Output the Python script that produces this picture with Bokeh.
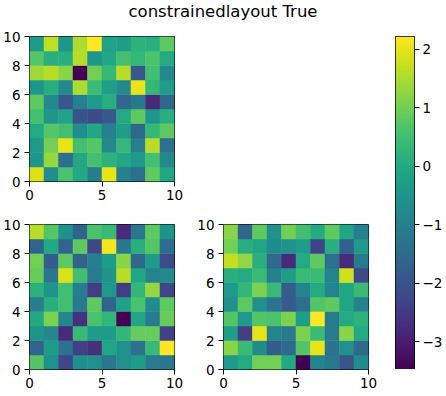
import numpy as np
from bokeh.plotting import figure
from bokeh.models import (Range1d, FixedTicker, LinearColorMapper, ColumnDataSource,
                          Div, GlobalInlineStyleSheet, CustomJSTickFormatter)
from bokeh.layouts import column, row
from bokeh.palettes import Viridis256
from bokeh.embed import file_html
from bokeh.resources import INLINE

title_text = "constrainedlayout True"
x_ticks = [0, 5, 10]
y_ticks = [0, 2, 4, 6, 8, 10]
cbar_ticks = [-3, -2, -1, 0, 1, 2]

# rows listed from bottom (y = 0..1) to top (y = 9..10)
panel_top_left = [
    [1.9, -0.7, 0.6, 0.0, -1.1, 2.0, -1.0, -1.4, 0.8, -0.1],
    [-0.5, 1.3, -1.4, -0.1, 0.5, 0.2, -0.1, -0.4, 0.5, -0.8],
    [-0.4, 1.0, 2.0, 0.5, 0.7, -0.8, 0.3, -1.0, 1.6, -1.4],
    [0.0, 0.7, 0.5, -0.7, -0.1, -1.0, -0.3, -1.5, 0.3, 0.8],
    [0.5, -0.5, -0.2, -2.0, -2.2, -1.9, 0.0, 0.8, -0.5, 0.1],
    [0.8, -0.8, -1.9, -1.0, -0.4, 0.1, -1.6, -1.2, -2.8, -1.6],
    [-0.5, 0.1, -0.8, 1.5, 0.4, -0.3, -0.8, 2.0, 0.3, -0.3],
    [1.4, 1.6, 1.2, -3.47, 1.0, 0.3, 1.6, -1.9, 0.5, -0.8],
    [0.7, 0.1, 0.1, 1.6, -0.5, -0.1, 0.5, 0.3, 0.6, 0.0],
    [-0.35, 1.65, -0.5, 1.5, 2.2, -0.2, -0.3, 0.2, 0.1, 0.8],
]
panel_bottom_left = [
    [0.7, -0.6, -2.2, -0.6, -0.6, -1.2, -0.6, -0.3, -1.1, -1.2],
    [-1.6, -0.3, -1.3, -2.3, -2.6, -0.1, -0.6, -1.3, 0.4, 2.2],
    [-0.5, -0.8, -2.7, 0.4, -0.3, -0.3, 0.3, 0.9, 0.9, -2.3],
    [0.0, 1.1, -0.8, -2.6, 0.6, 0.3, -3.4, -0.1, -1.1, 0.9],
    [-1.0, 0.1, 0.5, -1.1, 0.8, -1.6, -0.2, 0.6, -0.7, 0.8],
    [0.2, -0.5, 0.5, -1.0, -2.4, -0.4, -2.4, 0.3, 1.3, -2.2],
    [0.9, -1.2, 1.9, 0.5, -1.1, -0.5, 1.6, -0.1, -0.9, -0.7],
    [1.0, -1.8, 0.8, -1.6, -1.0, -0.3, 1.2, -1.5, -0.3, -2.1],
    [-1.6, 0.0, -1.6, 0.8, -2.2, 2.1, -1.2, 0.1, 0.7, -1.4],
    [1.6, 0.7, -0.6, -1.6, 0.6, 0.4, -2.7, -1.2, 0.8, -0.5],
]
panel_bottom_right = [
    [-0.4, 0.0, 1.0, 1.0, 0.0, -3.47, -0.9, -1.2, -2.0, -0.7],
    [1.2, 0.4, -0.7, -1.8, -1.5, 0.7, 2.0, -1.3, -0.6, -1.5],
    [-0.3, -2.4, 2.0, -0.9, -1.1, 1.1, 0.4, -1.1, 1.2, 0.0],
    [0.7, -0.4, 0.7, 0.6, 1.1, -0.3, 2.22, -1.1, 0.0, 0.2],
    [-0.6, 0.8, -0.6, -1.3, -1.8, -1.4, 0.7, 0.8, -0.1, -0.9],
    [-0.4, 0.3, 1.1, 0.4, -1.8, -0.9, 0.0, -0.9, -0.1, 0.4],
    [0.1, 0.0, 0.4, -1.0, -0.3, 0.4, 0.4, -0.9, 1.8, -2.2],
    [1.7, 1.3, 0.1, -1.5, -2.8, 0.0, 0.8, -1.4, -2.8, -1.1],
    [1.0, 0.1, -0.1, -0.7, -0.6, -0.3, -2.3, 0.1, -1.7, -0.4],
    [1.2, -1.6, 0.8, -0.6, 1.0, 0.5, 0.0, 0.8, -0.1, -1.0],
]

FONT = "DejaVu Sans"
TICK_FS = "13.5px"


def style_axes(p):
    p.outline_line_color = "black"
    p.outline_line_width = 1
    p.outline_line_alpha = 1
    p.background_fill_color = "white"
    p.border_fill_color = "white"
    p.grid.visible = False
    for ax in p.axis:
        ax.axis_line_color = None
        ax.major_tick_in = 0
        ax.major_tick_out = 5
        ax.major_tick_line_color = "black"
        ax.major_tick_line_width = 1
        ax.minor_tick_line_color = None
        ax.major_label_text_font = FONT
        ax.major_label_text_font_size = TICK_FS
        ax.major_label_text_color = "black"
        ax.major_label_standoff = 4


def panel(data, bl, br, bt, bb):
    arr = np.array(data, dtype=float)
    nr, nc = arr.shape
    jj, ii = np.meshgrid(np.arange(nc), np.arange(nr))
    src = ColumnDataSource(dict(left=jj.ravel(), right=jj.ravel() + 1,
                                bottom=ii.ravel(), top=ii.ravel() + 1, v=arr.ravel()))
    mapper = LinearColorMapper(palette=Viridis256, low=arr.min(), high=arr.max())
    p = figure(frame_width=145, frame_height=145,
               x_range=Range1d(0, nc), y_range=Range1d(0, nr),
               output_backend="svg", toolbar_location=None,
               min_border_left=bl, min_border_right=br,
               min_border_top=bt, min_border_bottom=bb)
    p.quad(left="left", right="right", bottom="bottom", top="top", source=src,
           fill_color={"field": "v", "transform": mapper},
           line_color={"field": "v", "transform": mapper}, line_width=0.5)
    p.xaxis.ticker = FixedTicker(ticks=x_ticks)
    p.yaxis.ticker = FixedTicker(ticks=y_ticks)
    style_axes(p)
    p.xaxis.major_label_standoff = 3
    return p, arr


# frame positions (page px): panels x 29-174 / 223-368, rows y 36-181 / 224-369
fig1, _ = panel(panel_top_left, 29, 10, 13, 35)
fig2, _ = panel(panel_bottom_left, 29, 10, 8, 0)
fig3, arr3 = panel(panel_bottom_right, 39, 10, 8, 0)

lo, hi = float(arr3.min()), float(arr3.max())
cb = figure(frame_width=19, frame_height=333, x_range=Range1d(0, 1), y_range=Range1d(lo, hi),
            x_axis_location=None, y_axis_location="right",
            output_backend="svg", toolbar_location=None,
            min_border_left=17, min_border_right=0, min_border_top=13, min_border_bottom=0)
grad = np.linspace(lo, hi, 256).reshape(256, 1)
cb.image(image=[grad], x=0, y=lo, dw=1, dh=hi - lo,
         color_mapper=LinearColorMapper(palette=Viridis256, low=lo, high=hi))
cb.yaxis.ticker = FixedTicker(ticks=cbar_ticks)
cb.yaxis.formatter = CustomJSTickFormatter(code="return (tick < 0 ? '\\u2212' : '') + Math.abs(tick);")
style_axes(cb)
cb.yaxis.major_label_standoff = 3

title = Div(text=('<div style="width:446px;text-align:center;'
                  'font-family:\'DejaVu Sans\';font-size:16.5px;line-height:23px;color:black;">'
                  + title_text + '</div>'),
            width=446, height=23, margin=0)

root = column(title, row(column(fig1, row(fig2, fig3)), cb))
root.stylesheets = [GlobalInlineStyleSheet(css="html, body { overflow: hidden; }")]

open("out.html", "w").write(file_html(root, INLINE))
